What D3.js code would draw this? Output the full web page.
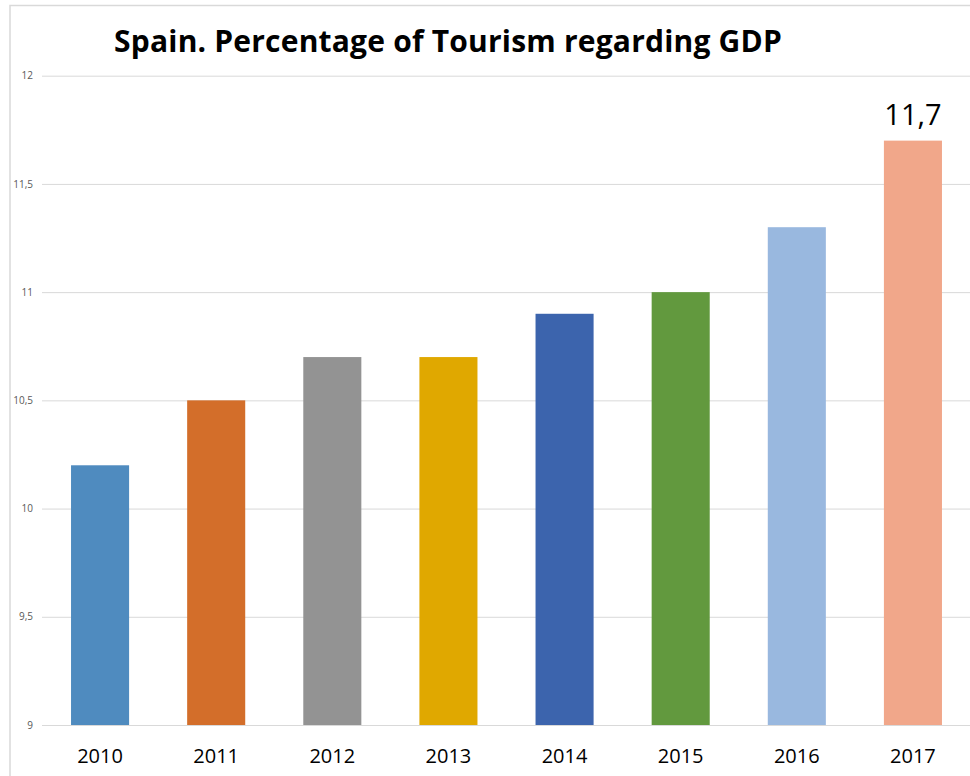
<!DOCTYPE html>
<html><head><meta charset="utf-8">
<script src="https://cdn.jsdelivr.net/npm/d3@7"></script>
<style>body{margin:0;background:#fff}svg{display:block}</style>
</head><body>
<svg id="c" width="970" height="776"></svg>
<script>
const years = ["2010","2011","2012","2013","2014","2015","2016","2017"];
const values = [10.2, 10.5, 10.7, 10.7, 10.9, 11.0, 11.3, 11.7];
const colors = ["#4F8BBF","#D36E2A","#939393","#E0A800","#3C64AD","#62993E","#99B8DF","#F1A78A"];
const yTicks = [9, 9.5, 10, 10.5, 11, 11.5, 12];
const title = "Spain. Percentage of Tourism regarding GDP";
const labelled = ["2017"];

const svg = d3.select("#c");
const fmt = d => String(d).replace(".", ",");
const font = "'Open Sans',sans-serif";
// frame
svg.append("path").attr("d","M10,776 V5.5 H970").attr("fill","none").attr("stroke","#d9d9d9").attr("stroke-width",1.5);

const x = d3.scaleBand().domain(years).range([42, 971]).paddingInner(0.5).paddingOuter(0.25);
const y = d3.scaleLinear().domain([9, 12]).range([725, 75.7]);

const ya = svg.append("g").attr("transform","translate(42,0)")
  .call(d3.axisLeft(y).tickValues(yTicks).tickFormat(fmt).tickSize(-929).tickPadding(9));
ya.select(".domain").remove();
ya.selectAll("line").attr("stroke","#d9d9d9").attr("stroke-width",1);
ya.selectAll("text").attr("fill","#595959").style("font-family",font).style("font-size","10px");

svg.append("g").selectAll("rect").data(years).join("rect")
  .attr("x", d => x(d)).attr("width", x.bandwidth())
  .attr("y", (d,i) => y(values[i])).attr("height", (d,i) => y(9) - y(values[i]))
  .attr("fill", (d,i) => colors[i]);

const xa = svg.append("g").attr("transform","translate(0,725)")
  .call(d3.axisBottom(x).tickSize(0).tickPadding(24));
xa.select(".domain").remove();
xa.selectAll("text").attr("fill","#000").style("font-family",font).style("font-size","20px");

svg.append("g").selectAll("text").data(years.filter(d => labelled.includes(d))).join("text")
  .attr("x", d => x(d) + x.bandwidth()/2)
  .attr("y", d => y(values[years.indexOf(d)]) - 16)
  .attr("text-anchor","middle")
  .style("font-family",font).style("font-size","29px")
  .text(d => fmt(values[years.indexOf(d)]));

svg.append("text").attr("x", 448).attr("y", 52).attr("text-anchor","middle")
  .style("font-family",font).style("font-weight","bold").style("font-size","30px").style("letter-spacing","0.2px")
  .text(title);
</script>
</body></html>
